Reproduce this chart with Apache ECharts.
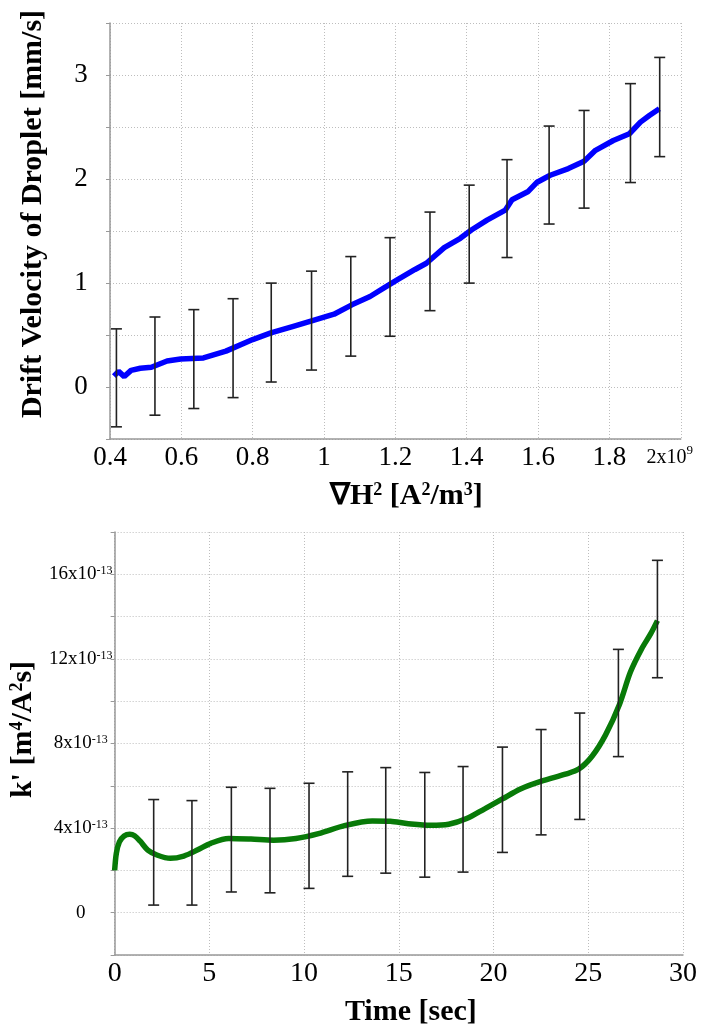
<!DOCTYPE html>
<html>
<head>
<meta charset="utf-8">
<script src="https://cdn.jsdelivr.net/npm/echarts@6/dist/echarts.min.js"></script>
<style>
    body{margin:0;background:#fff;}
    #chart1,#chart2{width:707px;height:516px;}
</style>
</head>
<body>
<div id="chart1"></div>
<div id="chart2"></div>
<script>
    //上图：液滴漂移速度 (x 单位 10^9 A^2/m^3)
    let velX = [0.411, 0.424, 0.440, 0.459, 0.485, 0.516, 0.560, 0.598, 0.662, 0.725, 0.800, 0.851, 0.914, 0.977, 1.028, 1.078, 1.129, 1.167, 1.205, 1.255, 1.287, 1.337, 1.382, 1.413, 1.457, 1.508, 1.527, 1.571, 1.596, 1.634, 1.685, 1.729, 1.761, 1.811, 1.856, 1.887, 1.912, 1.940];
    let velY = [0.105, 0.15, 0.10, 0.16, 0.18, 0.19, 0.25, 0.27, 0.28, 0.345, 0.456, 0.52, 0.584, 0.648, 0.70, 0.79, 0.87, 0.95, 1.03, 1.13, 1.19, 1.34, 1.43, 1.51, 1.605, 1.70, 1.80, 1.877, 1.966, 2.036, 2.10, 2.17, 2.276, 2.37, 2.435, 2.547, 2.61, 2.675];
    let velErrX = [0.418, 0.526, 0.635, 0.745, 0.852, 0.965, 1.075, 1.185, 1.297, 1.407, 1.513, 1.631, 1.729, 1.859, 1.941];
    let velErrLow = [-0.383, -0.271, -0.207, -0.102, 0.048, 0.163, 0.297, 0.488, 0.734, 0.999, 1.245, 1.567, 1.720, 1.966, 2.215];
    let velErrHigh = [0.559, 0.673, 0.744, 0.849, 0.999, 1.114, 1.254, 1.436, 1.682, 1.941, 2.186, 2.509, 2.659, 2.917, 3.169];
    let velYLabels = [0, 1, 2, 3];

    //下图：k' 随时间 (y 单位 10^-13)
    let kTime = [0.0, 0.09, 0.25, 0.5, 0.8, 1.05, 1.35, 1.75, 2.23, 2.94, 3.65, 4.36, 5.07, 6.02, 7.20, 8.39, 9.57, 10.76, 12.18, 13.60, 14.55, 15.50, 16.68, 17.63, 18.58, 19.53, 20.47, 21.42, 22.61, 23.79, 24.50, 25.21, 25.92, 26.64, 27.23, 27.82, 28.29, 28.65];
    let kVal = [2.0, 2.81, 3.35, 3.63, 3.71, 3.64, 3.38, 2.96, 2.73, 2.57, 2.68, 2.96, 3.28, 3.51, 3.48, 3.43, 3.51, 3.74, 4.13, 4.34, 4.32, 4.21, 4.13, 4.18, 4.45, 4.91, 5.38, 5.85, 6.24, 6.55, 6.79, 7.41, 8.42, 9.83, 11.39, 12.48, 13.18, 13.81];
    let kErrT = [2.06, 4.08, 6.16, 8.20, 10.26, 12.30, 14.31, 16.37, 18.39, 20.47, 22.51, 24.55, 26.59, 28.65];
    let kErrLow = [0.36, 0.36, 0.98, 0.94, 1.15, 1.72, 1.87, 1.68, 1.92, 2.85, 3.68, 4.41, 7.38, 11.11];
    let kErrHigh = [5.35, 5.30, 5.93, 5.88, 6.12, 6.66, 6.86, 6.63, 6.91, 7.83, 8.66, 9.44, 12.45, 16.66];
    let kYLabels = [0, 4, 8, 12, 16];

    let serif = "'Liberation Serif', 'Times New Roman', serif";
    let gridLine = {show: true, lineStyle: {color: '#bdbdbd', type: [1, 2], width: 1}};
    let axisLine = {show: true, onZero: false, lineStyle: {color: '#999', width: 1.5}};

    function zip(a, b, c) {
        return a.map(function (v, i) { return c ? [v, b[i], c[i]] : [v, b[i]]; });
    }

    //误差棒
    function errorBar(params, api) {
        let top = api.coord([api.value(0), api.value(2)]);
        let bot = api.coord([api.value(0), api.value(1)]);
        let w = 5.5;
        let style = {stroke: '#222', lineWidth: 1.6};
        return {
            type: 'group',
            children: [
                {type: 'line', shape: {x1: top[0], y1: top[1], x2: bot[0], y2: bot[1]}, style: style},
                {type: 'line', shape: {x1: top[0] - w, y1: top[1], x2: top[0] + w, y2: top[1]}, style: style},
                {type: 'line', shape: {x1: bot[0] - w, y1: bot[1], x2: bot[0] + w, y2: bot[1]}, style: style}
            ]
        };
    }

    let nameStyle = {
        fontFamily: serif, fontWeight: 'bold', fontSize: 30, color: '#000',
        rich: {
            s: {fontFamily: serif, fontWeight: 'bold', fontSize: 18, color: '#000', verticalAlign: 'top'}
        }
    };

    let chart1 = echarts.init(document.getElementById('chart1'));
    let chart2 = echarts.init(document.getElementById('chart2'));

    let option1 = {
        animation: false,
        grid: {left: 110, right: 25, top: 23, bottom: 74},
        xAxis: {
            type: 'value', min: 0.4, max: 2, interval: 0.2,
            name: '∇H{s|2} [A{s|2}/m{s|3}]', nameLocation: 'middle', nameGap: 42,
            nameTextStyle: Object.assign({padding: [0, 0, 0, 22]}, nameStyle),
            axisLine: axisLine, axisTick: {show: false}, splitLine: gridLine,
            axisLabel: {
                color: '#000', fontFamily: serif, fontSize: 27, margin: 5,
                formatter: function (v) {
                    if (Math.abs(v - 2) < 1e-6) return '{n|2x10}{e|9}{p|}';
                    return String(+v.toFixed(1));
                },
                rich: {
                    n: {fontFamily: serif, fontSize: 20, color: '#000'},
                    e: {fontFamily: serif, fontSize: 13, color: '#000', verticalAlign: 'top'},
                    p: {width: 22}
                }
            }
        },
        yAxis: {
            type: 'value', min: -0.5, max: 3.5, interval: 0.5,
            name: 'Drift Velocity of Droplet [mm/s]', nameLocation: 'middle', nameGap: 62,
            nameTextStyle: Object.assign({padding: [0, 0, 0, 34]}, nameStyle),
            axisLine: axisLine, axisTick: {show: true, length: 4, lineStyle: {color: '#999'}},
            splitLine: gridLine,
            axisLabel: {
                color: '#000', fontFamily: serif, fontSize: 27, margin: 29, align: 'center',
                formatter: function (v) {
                    return velYLabels.indexOf(+v.toFixed(2)) >= 0 ? String(+v.toFixed(2)) : '';
                }
            }
        },
        series: [{
            type: 'line', data: zip(velX, velY), showSymbol: false,
            lineStyle: {color: '#0000ff', width: 5.5}, z: 2
        }, {
            type: 'custom', renderItem: errorBar, data: zip(velErrX, velErrLow, velErrHigh),
            encode: {x: 0, y: [1, 2]}, z: 3
        }]
    };

    let option2 = {
        animation: false,
        grid: {left: 111, right: 24, top: 16, bottom: 72},
        xAxis: {
            type: 'value', min: 0, max: 30, interval: 5,
            name: 'Time [sec]', nameLocation: 'middle', nameGap: 42,
            nameTextStyle: Object.assign({padding: [0, 0, 0, 24]}, nameStyle),
            axisLine: axisLine, axisTick: {show: false}, splitLine: gridLine,
            axisLabel: {color: '#000', fontFamily: serif, fontSize: 28, margin: 5}
        },
        yAxis: {
            type: 'value', min: -2, max: 18, interval: 2,
            name: "k' [m{s|4}/A{s|2}s]", nameLocation: 'middle', nameGap: 62,
            nameTextStyle: Object.assign({padding: [0, 0, 0, 28]}, nameStyle),
            axisLine: axisLine, axisTick: {show: true, length: 4, lineStyle: {color: '#999'}},
            splitLine: gridLine,
            axisLabel: {
                color: '#000', fontFamily: serif, margin: 34, align: 'center',
                formatter: function (v) {
                    if (kYLabels.indexOf(v) < 0) return '';
                    return v === 0 ? '{n|0}' : '{n|' + v + 'x10}{e|-13}';
                },
                rich: {
                    n: {fontFamily: serif, fontSize: 19, color: '#000'},
                    e: {fontFamily: serif, fontSize: 12, color: '#000', verticalAlign: 'top'}
                }
            }
        },
        series: [{
            type: 'line', data: zip(kTime, kVal), showSymbol: false, smooth: 0.3,
            lineStyle: {color: '#087a08', width: 5.5}, z: 2
        }, {
            type: 'custom', renderItem: errorBar, data: zip(kErrT, kErrLow, kErrHigh),
            encode: {x: 0, y: [1, 2]}, z: 3
        }]
    };

    chart1.setOption(option1);
    chart2.setOption(option2);
</script>
</body>
</html>
